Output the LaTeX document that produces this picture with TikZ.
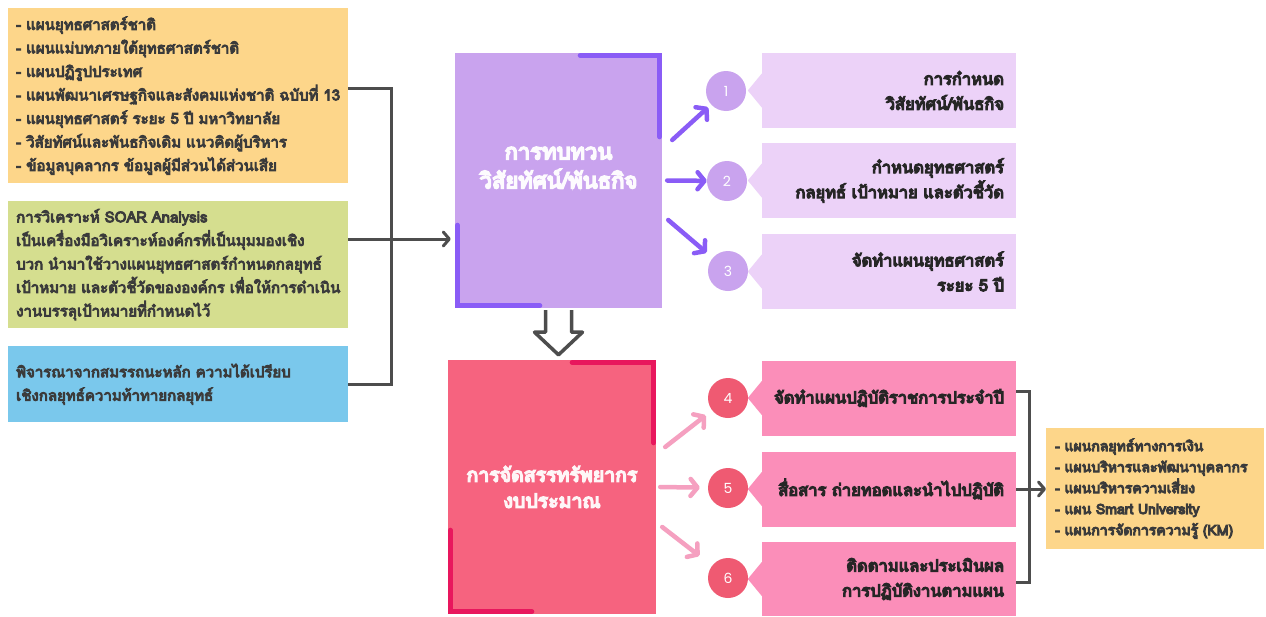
\documentclass[tikz,border=0pt]{standalone}
\usepackage{fontspec}
\usepackage{tikz}
\usepackage{xcolor}
\usetikzlibrary{arrows.meta, positioning, calc}
\newfontfamily\thaifont[Script=Thai, FakeBold=6]{Loma}
\newfontfamily\thaibold[Script=Thai, FakeBold=7.5]{Loma}
\newfontfamily\numfont{Poppins}
\definecolor{PlanOrange}{HTML}{FDD68A}
\definecolor{PlanOlive}{HTML}{D5DE8F}
\definecolor{PlanSky}{HTML}{7AC8EC}
\definecolor{ReviewLilac}{HTML}{C9A3EE}
\definecolor{ReviewViolet}{HTML}{8A5CF6}
\definecolor{ReviewPale}{HTML}{ECD2F8}
\definecolor{BudgetRose}{HTML}{F6637F}
\definecolor{BudgetCrimson}{HTML}{E8175D}
\definecolor{BudgetPink}{HTML}{FB8EB9}
\definecolor{BudgetDot}{HTML}{EF5A72}
\definecolor{BudgetArrow}{HTML}{F5A0C0}
\definecolor{LinkGray}{HTML}{4D4D4D}
\definecolor{TextGray}{HTML}{3B3B3B}
\tikzset{
    % Input boxes on the left
    source box/.style={
        rectangle,
        anchor=north west,
        minimum width=340pt,
        text width=324pt,
        inner xsep=8pt,
        inner ysep=0pt,
        align=left,
        text=TextGray,
        font=\thaifont\fontsize{15pt}{23.5pt}\selectfont
    },
    % Big process boxes
    stage box/.style={
        rectangle,
        inner sep=0pt,
        align=center,
        font=\thaibold\fontsize{22pt}{29pt}\selectfont
    },
    % Numbered steps
    step dot/.style={
        circle,
        minimum size=40pt,
        inner sep=0pt,
        text=white,
        font=\numfont\fontsize{14pt}{14pt}\selectfont
    },
    step tab/.style={
        rectangle,
        minimum width=254pt,
        minimum height=75pt,
        text width=230pt,
        inner xsep=12pt,
        align=right,
        text=black!85,
        font=\thaibold\fontsize{16.5pt}{25pt}\selectfont
    },
    corner accent/.style={
        line width=5pt,
        line cap=round
    },
    link/.style={
        LinkGray,
        line width=3pt
    },
    link arrow/.style={
        link,
        -{Straight Barb[length=6pt,width=14pt,round]}
    },
    step arrow/.style={
        line width=4.5pt,
        line cap=round,
        -{Straight Barb[length=7pt,width=17pt,round]}
    }
}

\begin{document}
\begin{tikzpicture}[x=1pt, y=-1pt]
        \fill[white] (0,0) rectangle (1266,616);
        \useasboundingbox (0,0) rectangle (1266,616);

        % Inputs
        \node[source box, fill=PlanOrange, minimum height=175pt] (national) at (8,8) {
            - แผนยุทธศาสตร์ชาติ\\
            - แผนแม่บทภายใต้ยุทธศาสตร์ชาติ\\
            - แผนปฏิรูปประเทศ\\
            -~แผนพัฒนาเศรษฐกิจและสังคมแห่งชาติ~ฉบับที่~13\\
            -~แผนยุทธศาสตร์~ระยะ~5~ปี~มหาวิทยาลัย\\
            -~วิสัยทัศน์และพันธกิจเดิม~แนวคิดผู้บริหาร\\
            -~ข้อมูลบุคลากร~ข้อมูลผู้มีส่วนได้ส่วนเสีย
        };

        \node[source box, fill=PlanOlive, minimum height=127pt] (soar) at (8,201) {
            การวิเคราะห์~SOAR~Analysis\\
            เป็นเครื่องมือวิเคราะห์องค์กรที่เป็นมุมมองเชิง\\
            บวก~นำมาใช้วางแผนยุทธศาสตร์กำหนดกลยุทธ์\\
            เป้าหมาย~และตัวชี้วัดขององค์กร~เพื่อให้การดำเนิน\\
            งานบรรลุเป้าหมายที่กำหนดไว้
        };

        \node[source box, fill=PlanSky, minimum height=76pt] (core) at (8,346) {
            พิจารณาจากสมรรถนะหลัก~ความได้เปรียบ\\
            เชิงกลยุทธ์ความท้าทายกลยุทธ์
        };

        % Main stages
        \node[stage box, fill=ReviewLilac, text=white!96!ReviewLilac, minimum width=207pt, minimum height=255pt] (rev) at (558.5,180.5) {
            การทบทวน\\
            วิสัยทัศน์/พันธกิจ\\[-12pt]\strut
        };

        \node[stage box, fill=BudgetRose, text=white!94!BudgetRose, minimum width=208pt, minimum height=254pt, font=\thaibold\fontsize{19.5pt}{26pt}\selectfont] (alloc) at (552,487) {
            การจัดสรรทรัพยากร\\
            งบประมาณ
        };

        \draw[corner accent, ReviewViolet] ($(rev.north east)+(-82,2.5)$) -| ($(rev.north east)+(-2.5,84)$);
        \draw[corner accent, ReviewViolet] ($(rev.south west)+(2.5,-83)$) |- ($(rev.south west)+(85,-2.5)$);
        \draw[corner accent, BudgetCrimson] ($(alloc.north east)+(-84,2.5)$) -| ($(alloc.north east)+(-2.5,83)$);
        \draw[corner accent, BudgetCrimson] ($(alloc.south west)+(2.5,-84)$) |- ($(alloc.south west)+(84,-2.5)$);

        % Hollow arrow between stages
        \draw[LinkGray, line width=3.5pt, line join=round] ($(rev.south)+(-13,2)$) -- ++(0,22) -- ++(-11,0)
            -- ($(rev.south |- alloc.north)+(0,-5)$) -- ($(rev.south)+(24,24)$) -- ++(-11,0) -- ++(0,-22);

        % Steps of the review
        \node[step dot, fill=ReviewLilac] (n1) at (726,91) {1};
        \node[step dot, fill=ReviewLilac] (n2) at (727,181) {2};
        \node[step dot, fill=ReviewLilac] (n3) at (728,271) {3};

        \node[step tab, fill=ReviewPale] (t1) at (889,90.5) {การกำหนด\\วิสัยทัศน์/พันธกิจ};
        \node[step tab, fill=ReviewPale] (t2) at (889,180.5) {กำหนดยุทธศาสตร์\\กลยุทธ์~เป้าหมาย~และตัวชี้วัด};
        \node[step tab, fill=ReviewPale] (t3) at (889,271.5) {จัดทำแผนยุทธศาสตร์\\ระยะ~5~ปี};

        % Steps of the allocation
        \node[step dot, fill=BudgetDot] (n4) at (728,398) {4};
        \node[step dot, fill=BudgetDot] (n5) at (728,488) {5};
        \node[step dot, fill=BudgetDot] (n6) at (728,578) {6};

        \node[step tab, fill=BudgetPink] (t4) at (889,398) {จัดทำแผนปฏิบัติราชการประจำปี};
        \node[step tab, fill=BudgetPink] (t5) at (889,489) {สื่อสาร~ถ่ายทอดและนำไปปฏิบัติ};
        \node[step tab, fill=BudgetPink, minimum height=74pt] (t6) at (889,579) {ติดตามและประเมินผล\\การปฏิบัติงานตามแผน};

        % Tab pointers
        \foreach \t/\c in {t1/ReviewPale, t2/ReviewPale, t3/ReviewPale, t4/BudgetPink, t5/BudgetPink, t6/BudgetPink}
            \fill[\c] (\t.west) ++(0,-17) -- ++(-14,17) -- ++(14,17) -- cycle;

        % Sub plans
        \node[source box, fill=PlanOrange, minimum width=215pt, minimum height=121pt, text width=200pt, inner xsep=9pt,
              font=\thaibold\fontsize{14pt}{21pt}\selectfont] (subplans) at (1046,428) {
            -~แผนกลยุทธ์ทางการเงิน\\
            -~แผนบริหารและพัฒนาบุคลากร\\
            -~แผนบริหารความเสี่ยง\\
            -~แผน~Smart~University\\
            -~แผนการจัดการความรู้~(KM)
        };

        % Connectors
        \coordinate (soarrow) at (0,239);
        \draw[link] ([yshift=7.5pt]national.east) -- ++(43,0) |- (core.east);
        \draw[link arrow, shorten >=4pt] (soar.east |- soarrow) -- (rev.west |- soarrow);

        \draw[step arrow, ReviewViolet, shorten >=4pt] ([xshift=10pt,yshift=40.5pt]rev.east) -- (n1);
        \draw[step arrow, ReviewViolet] ([xshift=5pt]rev.east) -- (n2);
        \draw[step arrow, ReviewViolet, shorten >=8pt] ([xshift=6pt,yshift=-39.5pt]rev.east) -- (n3);

        \draw[step arrow, BudgetArrow, shorten >=8pt] ([xshift=9pt,yshift=40pt]alloc.east) -- (n4);
        \draw[step arrow, BudgetArrow, shorten >=8pt] ([xshift=4pt]alloc.east) -- (n5);
        \draw[step arrow, BudgetArrow, shorten >=16pt] ([xshift=6pt,yshift=-40pt]alloc.east) -- (n6);

        \draw[link] ([yshift=7pt]t4.east) -- ++(13,0) |- ([yshift=-3pt]t6.east);
        \draw[link arrow] (t5.east) -- (t5.east -| subplans.west);
    \end{tikzpicture}
\end{document}
